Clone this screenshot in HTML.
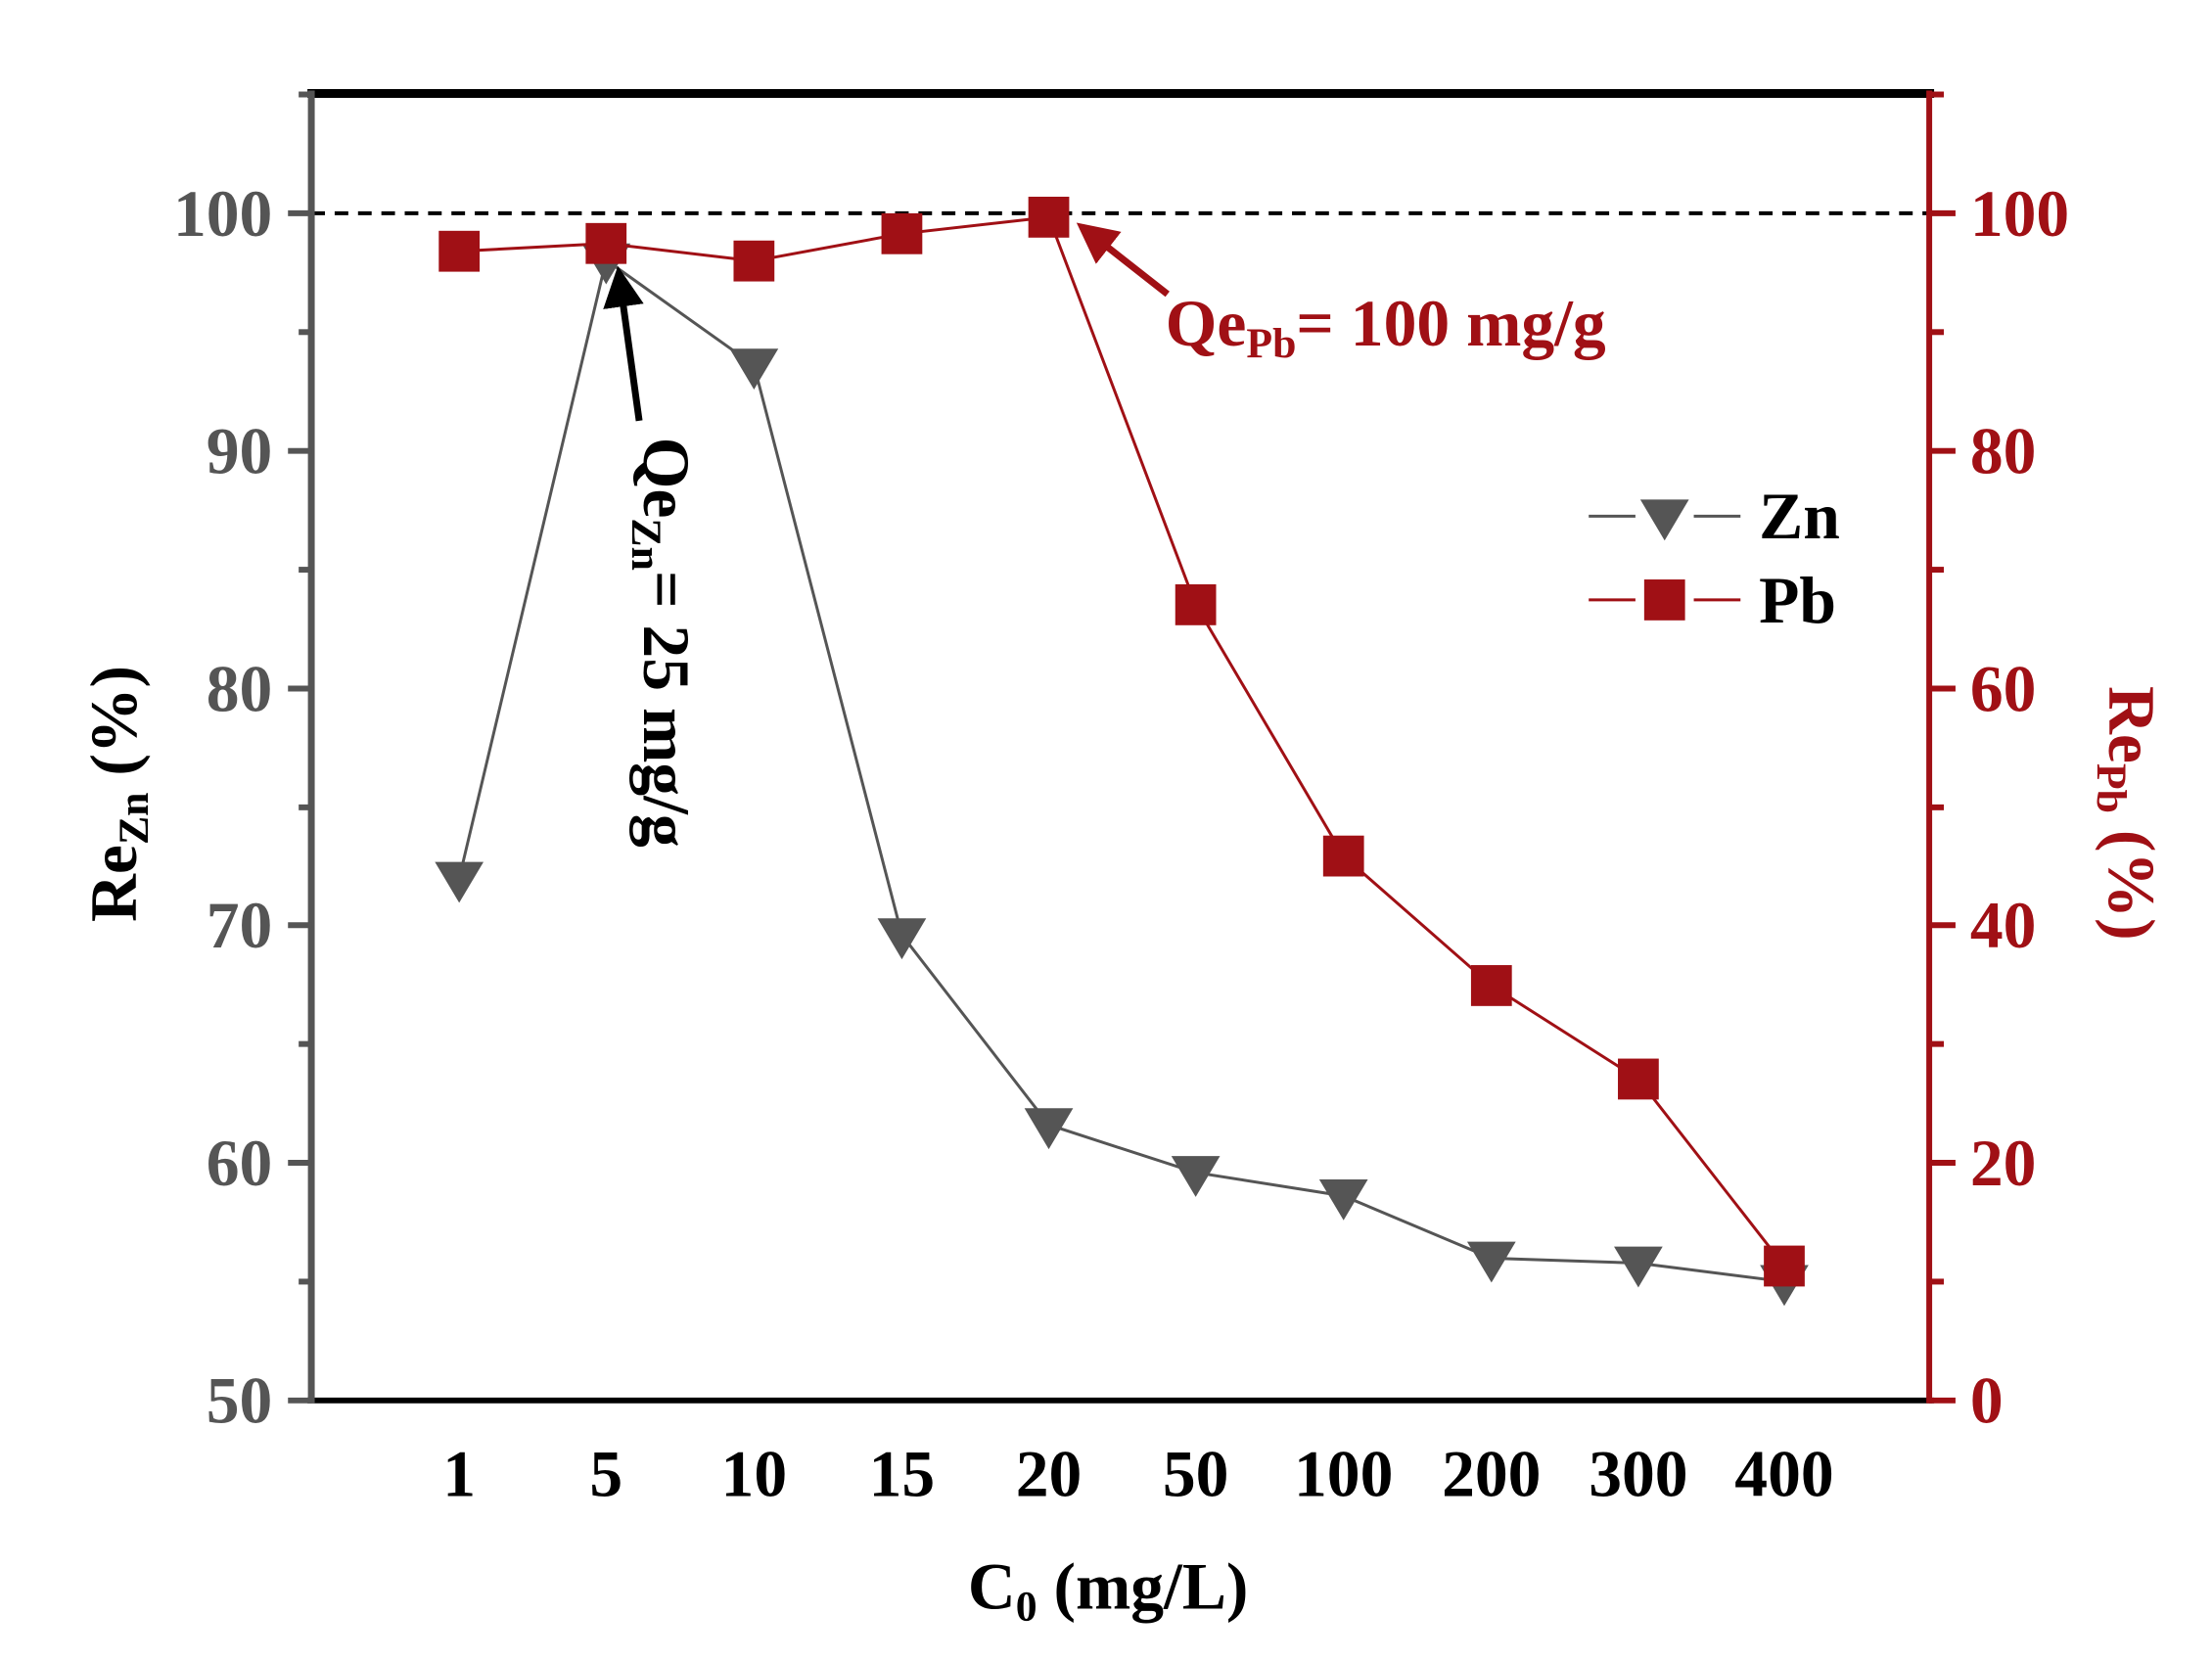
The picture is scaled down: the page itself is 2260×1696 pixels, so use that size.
<!DOCTYPE html>
<html><head><meta charset="utf-8"><style>
html,body{margin:0;padding:0;background:#fff}
svg{display:block}
text{font-family:"Liberation Serif",serif;font-weight:bold}
</style></head><body>
<svg width="2260" height="1696" viewBox="0 0 2260 1696" xmlns="http://www.w3.org/2000/svg">
<defs>
<marker id="ab" markerWidth="6" markerHeight="6" refX="5" refY="3" orient="auto" markerUnits="strokeWidth"><path d="M0,0 L6,3 L0,6 z" fill="#000"/></marker>
<marker id="ar" markerWidth="6" markerHeight="6" refX="5" refY="3" orient="auto" markerUnits="strokeWidth"><path d="M0,0 L6,3 L0,6 z" fill="#a01015"/></marker>
<path id="tri" d="M-25,-17 h50 l-25,42 z"/>
</defs>
<g transform="scale(0.994,0.995)">
<line x1="320" y1="219" x2="1985" y2="219" stroke="#000" stroke-width="4" stroke-dasharray="14,10"/>
<line x1="316" y1="96" x2="1988" y2="96" stroke="#000" stroke-width="9"/>
<line x1="316" y1="1438" x2="1988" y2="1438" stroke="#000" stroke-width="6"/>
<line x1="320" y1="93" x2="320" y2="1441" stroke="#555" stroke-width="7"/>
<line x1="1983" y1="93" x2="1983" y2="1441" stroke="#a01015" stroke-width="6"/>
<g stroke="#555" stroke-width="6">
<line x1="296" y1="219" x2="320" y2="219"/><line x1="296" y1="463" x2="320" y2="463"/><line x1="296" y1="707" x2="320" y2="707"/><line x1="296" y1="950" x2="320" y2="950"/><line x1="296" y1="1194" x2="320" y2="1194"/><line x1="296" y1="1438" x2="320" y2="1438"/>
<line x1="307" y1="341" x2="320" y2="341"/><line x1="307" y1="585" x2="320" y2="585"/><line x1="307" y1="829" x2="320" y2="829"/><line x1="307" y1="1072" x2="320" y2="1072"/><line x1="307" y1="1316" x2="320" y2="1316"/><line x1="307" y1="97" x2="320" y2="97"/>
</g>
<g fill="#555" font-size="68" text-anchor="end">
<text x="280" y="242">100</text><text x="280" y="486">90</text><text x="280" y="730">80</text><text x="280" y="973">70</text><text x="280" y="1217">60</text><text x="280" y="1461">50</text>
</g>
<g stroke="#a01015" stroke-width="6">
<line x1="1983" y1="219" x2="2010" y2="219"/><line x1="1983" y1="463" x2="2010" y2="463"/><line x1="1983" y1="707" x2="2010" y2="707"/><line x1="1983" y1="950" x2="2010" y2="950"/><line x1="1983" y1="1194" x2="2010" y2="1194"/><line x1="1983" y1="1438" x2="2010" y2="1438"/>
<line x1="1983" y1="97" x2="1998" y2="97"/><line x1="1983" y1="341" x2="1998" y2="341"/><line x1="1983" y1="585" x2="1998" y2="585"/><line x1="1983" y1="829" x2="1998" y2="829"/><line x1="1983" y1="1072" x2="1998" y2="1072"/><line x1="1983" y1="1316" x2="1998" y2="1316"/>
</g>
<g fill="#a01015" font-size="68">
<text x="2025" y="242">100</text><text x="2025" y="486">80</text><text x="2025" y="730">60</text><text x="2025" y="973">40</text><text x="2025" y="1217">20</text><text x="2025" y="1461">0</text>
</g>
<g fill="#000" font-size="68" text-anchor="middle">
<text x="472" y="1536">1</text><text x="623" y="1536">5</text><text x="775" y="1536">10</text><text x="927" y="1536">15</text><text x="1078" y="1536">20</text><text x="1229" y="1536">50</text><text x="1381" y="1536">100</text><text x="1533" y="1536">200</text><text x="1684" y="1536">300</text><text x="1834" y="1536">400</text>
</g>
<text x="1139" y="1652" font-size="68" text-anchor="middle" fill="#000">C<tspan font-size="44" dy="12">0</tspan><tspan dy="-12"> (mg/L)</tspan></text>
<text transform="translate(140,815) rotate(-90)" font-size="68" text-anchor="middle" fill="#000">Re<tspan font-size="44" dy="12">Zn</tspan><tspan dy="-12"> (%)</tspan></text>
<text transform="translate(2168,835) rotate(90)" font-size="68" text-anchor="middle" fill="#a01015">Re<tspan font-size="44" dy="12">Pb</tspan><tspan dy="-12"> (%)</tspan></text>
<polyline fill="none" stroke="#555" stroke-width="3" points="472,902 623,267 775,375 927,960 1078,1155 1229,1204 1381,1228 1533,1292 1684,1297 1834,1316"/>
<g fill="#555">
<use href="#tri" x="472" y="902"/><use href="#tri" x="623" y="267"/><use href="#tri" x="775" y="375"/><use href="#tri" x="927" y="960"/><use href="#tri" x="1078" y="1155"/><use href="#tri" x="1229" y="1204"/><use href="#tri" x="1381" y="1228"/><use href="#tri" x="1533" y="1292"/><use href="#tri" x="1684" y="1297"/><use href="#tri" x="1834" y="1316"/>
</g>
<polyline fill="none" stroke="#a01015" stroke-width="3" points="472,258 623,250 775,268 927,240 1078,223 1229,621 1381,879 1533,1012 1684,1108 1834,1300"/>
<g fill="#a01015">
<rect x="451" y="237" width="42" height="42"/><rect x="602" y="229" width="42" height="42"/><rect x="754" y="247" width="42" height="42"/><rect x="906" y="219" width="42" height="42"/><rect x="1057" y="202" width="42" height="42"/><rect x="1208" y="600" width="42" height="42"/><rect x="1360" y="858" width="42" height="42"/><rect x="1512" y="991" width="42" height="42"/><rect x="1663" y="1087" width="42" height="42"/><rect x="1813" y="1279" width="42" height="42"/>
</g>
<line x1="657" y1="432" x2="636" y2="280" stroke="#000" stroke-width="7" marker-end="url(#ab)"/>
<text transform="translate(662,449) rotate(90)" font-size="68" fill="#000">Qe<tspan font-size="44" dy="12">Zn</tspan><tspan dy="-12">= 25 mg/g</tspan></text>
<line x1="1200" y1="302" x2="1112" y2="233" stroke="#a01015" stroke-width="7" marker-end="url(#ar)"/>
<text x="1198" y="355" font-size="68" fill="#a01015">Qe<tspan font-size="44" dy="12">Pb</tspan><tspan dy="-12">= 100 mg/g</tspan></text>
<line x1="1633" y1="530" x2="1681" y2="530" stroke="#555" stroke-width="3"/>
<line x1="1741" y1="530" x2="1789" y2="530" stroke="#555" stroke-width="3"/>
<use href="#tri" x="1711" y="530" fill="#555"/>
<text x="1808" y="553" font-size="68" fill="#000">Zn</text>
<line x1="1633" y1="616" x2="1681" y2="616" stroke="#a01015" stroke-width="3"/>
<line x1="1741" y1="616" x2="1789" y2="616" stroke="#a01015" stroke-width="3"/>
<rect x="1690" y="595" width="42" height="42" fill="#a01015"/>
<text x="1808" y="639" font-size="68" fill="#000">Pb</text>
</g>
</svg>
</body></html>
